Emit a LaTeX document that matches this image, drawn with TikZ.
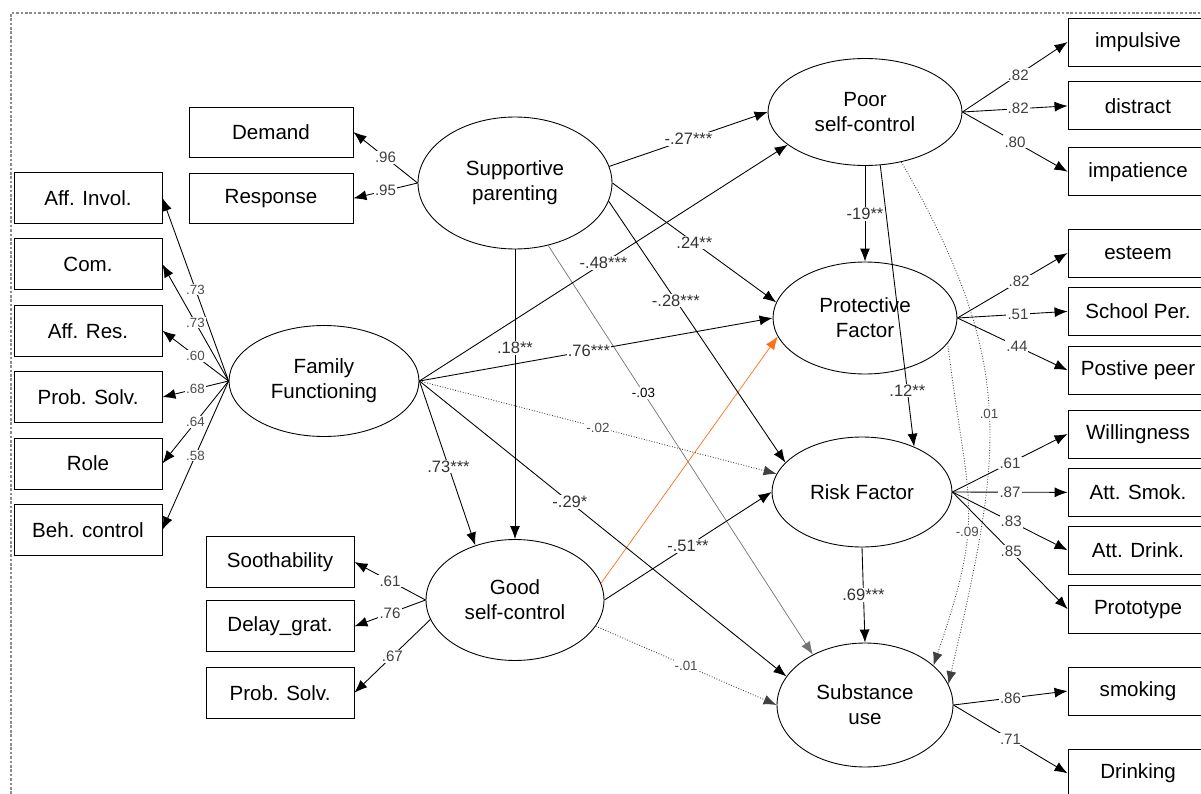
\documentclass[tikz,border=0pt]{standalone}
\usepackage{fontspec}
\setmainfont{Liberation Sans}
\usepackage{xcolor}
\usetikzlibrary{shapes, arrows.meta, positioning}

\definecolor{pathorange}{RGB}{255,110,20}
\newcommand{\boxfont}{\fontsize{11.7}{14.2}\selectfont}
\newcommand{\coeffont}{\fontsize{9.4}{11}\selectfont}
\newcommand{\ldgfont}{\fontsize{8.6}{10}\selectfont}
\newcommand{\weakfont}{\fontsize{7.6}{9}\selectfont}

\begin{document}
\begin{tikzpicture}[x=0.02cm, y=-0.02cm, >={Latex[length=2.6mm,width=2mm]}, line width=0.5pt, node distance=0.29cm]
    \tikzstyle{latent} = [ellipse, draw, inner sep=0pt, align=center, font=\boxfont]
    \tikzstyle{obs} = [rectangle, draw, minimum width=2.96cm, minimum height=1.02cm, font=\boxfont]
    \tikzstyle{obsr} = [obs, minimum width=2.8cm, minimum height=0.96cm]
    \tikzstyle{coef} = [fill=white, inner sep=0.6pt, font=\coeffont, text=black!80]
    \tikzstyle{ldg} = [coef, font=\ldgfont, text=black!75]
    \tikzstyle{weak} = [coef, font=\weakfont, text=black!70]
    \tikzstyle{dotline} = [densely dotted, black!75]

    \useasboundingbox (0,0) rectangle (1201,794);
    \draw[black!45, densely dotted, line width=1.5pt] (11,794) -- (11,13) -- (1201,13);

    % latent variables
    \node[latent, minimum width=3.88cm, minimum height=2.64cm] (sp) at (515,183) {Supportive\\parenting};
    \node[latent, minimum width=3.8cm, minimum height=2.22cm] (ff) at (324,381) {Family\\Functioning};
    \node[latent, minimum width=3.88cm, minimum height=2.14cm] (psc) at (865,112) {Poor\\self-control};
    \node[latent, minimum width=3.68cm, minimum height=2.24cm] (prot) at (865,318) {Protective\\Factor};
    \node[latent, minimum width=3.6cm, minimum height=2.2cm] (risk) at (862,492) {Risk Factor};
    \node[latent, minimum width=3.52cm, minimum height=2.48cm] (sub) at (865,705) {Substance\\use};
    \node[latent, minimum width=3.56cm, minimum height=2.42cm] (gsc) at (515,600) {Good\\self-control};

    % indicators
    \node[obs, minimum width=3.28cm, minimum height=1cm] (demand) at (271,132) {Demand};
    \node[obs, minimum width=3.28cm, minimum height=1cm, below=0.31cm of demand] (response) {Response};

    \node[obs] (affinv) at (88,198) {Aff. Invol.};
    \node[obs, below=of affinv] (com) {Com.};
    \node[obs, below=of com] (affres) {Aff. Res.};
    \node[obs, below=of affres] (probsolv) {Prob. Solv.};
    \node[obs, below=of probsolv] (role) {Role};
    \node[obs, below=of role] (behctrl) {Beh. control};

    \node[obs] (sooth) at (280,562) {Soothability};
    \node[obs, below=0.25cm of sooth] (delay) {Delay\_grat.};
    \node[obs, below=0.29cm of delay] (gprob) {Prob. Solv.};

    \node[obsr] (impuls) at (1138,42) {impulsive};
    \node[obsr, below=0.3cm of impuls] (distract) {distract};
    \node[obsr, below=0.34cm of distract] (impat) {impatience};
    \node[obsr] (esteem) at (1138,253) {esteem};
    \node[obsr, below=0.19cm of esteem] (school) {School Per.};
    \node[obsr, below=0.2cm of school] (peer) {Postive peer};
    \node[obsr] (willing) at (1138,434) {Willingness};
    \node[obsr, below=0.19cm of willing] (attsmok) {Att. Smok.};
    \node[obsr, below=0.18cm of attsmok] (attdrink) {Att. Drink.};
    \node[obsr, below=0.2cm of attdrink] (proto) {Prototype};
    \node[obsr] (smoking) at (1138,691) {smoking};
    \node[obsr, below=0.67cm of smoking] (drinking) {Drinking};

    % measurement paths
    \draw[->] (sp.west) -- (demand.east) node[pos=.5, ldg] {.96};
    \draw[->] (sp.west) -- (response.east) node[pos=.5, ldg] {.95};
    \draw[->] (ff.west) -- (affinv.east) node[pos=.5, weak] {.73};
    \draw[->] (ff.west) -- (com.east) node[pos=.5, weak] {.73};
    \draw[->] (ff.west) -- (affres.east) node[pos=.5, weak] {.60};
    \draw[->] (ff.west) -- (probsolv.east) node[pos=.5, weak] {.68};
    \draw[->] (ff.west) -- (role.east) node[pos=.5, weak] {.64};
    \draw[->] (ff.west) -- (behctrl.east) node[pos=.5, weak] {.58};
    \draw[->] (gsc.west) -- (sooth.east) node[pos=.5, ldg] {.61};
    \draw[->] (gsc.west) -- (delay.east) node[pos=.5, ldg] {.76};
    \draw[->] (gsc.193) -- (gprob.east) node[pos=.5, ldg] {.67};
    \draw[->] (psc.east) -- (impuls.west) node[pos=.53, ldg] {.82};
    \draw[->] (psc.east) -- (distract.west) node[pos=.53, ldg] {.82};
    \draw[->] (psc.east) -- (impat.west) node[pos=.5, ldg] {.80};
    \draw[->] (prot.east) -- (esteem.west) node[pos=.56, ldg] {.82};
    \draw[->] (prot.east) -- (school.west) node[pos=.55, ldg] {.51};
    \draw[->] (prot.east) -- (peer.west) node[pos=.54, ldg] {.44};
    \draw[->] (risk.east) -- (willing.west) node[pos=.5, ldg] {.61};
    \draw[->] (risk.east) -- (attsmok.west) node[pos=.5, ldg] {.87};
    \draw[->] (risk.east) -- (attdrink.west) node[pos=.51, ldg] {.83};
    \draw[->] (risk.east) -- (proto.west) node[pos=.51, ldg] {.85};
    \draw[->] (sub.east) -- (smoking.west) node[pos=.5, ldg] {.86};
    \draw[->] (sub.east) -- (drinking.west) node[pos=.5, ldg] {.71};

    % structural paths
    \draw[->, black!55, line width=0.4pt] (sp.-62) -- (sub.136) node[pos=.36, weak, text=black] {-.03};
    \draw[->, dotline] (ff.east) -- (risk.168) node[pos=.5, weak] {-.02};
    \draw[->, dotline] (gsc.-18) -- (sub.west) node[pos=.5, weak] {-.01};
    \draw[->, pathorange, line width=0.4pt] (gsc.11) -- (prot.192);
    \draw[->] (sp.10) -- (psc.west) node[pos=.5, coef] {-.27***};
    \draw[->] (sp.east) -- (prot.170) node[pos=.5, coef] {.24**};
    \draw[->] (sp.-11) -- (risk.159) node[pos=.38, coef] {-.28***};
    \draw[->] (sp.south) -- (gsc.north) node[pos=.34, coef] {.18**};
    \draw[->] (ff.east) -- (psc.203) node[pos=.5, coef] {-.48***};
    \draw[->] (ff.east) -- (prot.west) node[pos=.48, coef] {.76***};
    \draw[->] (ff.east) -- (gsc.126) node[pos=.52, coef] {.73***};
    \draw[->] (ff.east) -- (sub.160) node[pos=.41, coef] {-.29*};
    \draw[->] (gsc.east) -- (risk.west) node[pos=.5, coef] {-.51**};
    \draw[->] (psc.south) -- (prot.north) node[pos=.5, coef] {-19**};
    \draw[->] (psc.-74) -- (risk.41) node[pos=.8, coef] {.12**};
    \draw[->] (risk.south) -- (sub.north) node[pos=.5, coef] {.69***};
    \draw[->, dotline] (psc.-54) to[out=-60, in=77, looseness=1.15] node[pos=.5, weak] {.01} (sub.14);
    \draw[->, dotline] (prot.-17) to[out=-83, in=71, looseness=1.3] node[pos=.6, weak] {-.09} (sub.30);
\end{tikzpicture}
\end{document}
